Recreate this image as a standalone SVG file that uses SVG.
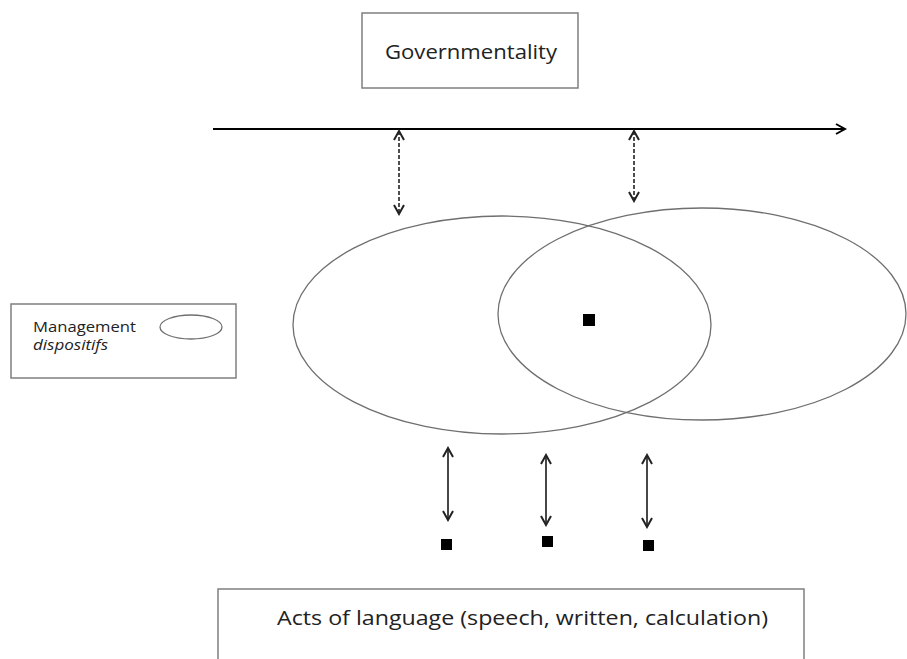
<svg xmlns="http://www.w3.org/2000/svg" width="907" height="659" viewBox="0 0 907 659">
<defs>
<style>
.box{fill:#fff;stroke:#7f7f7f;stroke-width:1.5}
.ell{fill:none;stroke:#6f6f6f;stroke-width:1.3}
.t{font-family:"Open Sans","Liberation Sans",sans-serif;fill:#222}
.ln{stroke:#000;stroke-width:2;fill:none}
.dash{stroke:#222;stroke-width:1.6;stroke-dasharray:4 2;fill:none}
.dbl{stroke:#333;stroke-width:1.8;fill:none}
.sq{fill:#000}
</style>
<marker id="ah" viewBox="0 0 12 12" refX="10" refY="6" markerWidth="12" markerHeight="12" markerUnits="userSpaceOnUse" orient="auto-start-reverse">
<path d="M1,1 L10,6 L1,11" fill="none" stroke="#000" stroke-width="2"/>
</marker>
<marker id="ah2" viewBox="0 0 12 12" refX="10" refY="6" markerWidth="12" markerHeight="12" markerUnits="userSpaceOnUse" orient="auto-start-reverse">
<path d="M1,1 L10,6 L1,11" fill="none" stroke="#222" stroke-width="2"/>
</marker>
</defs>
<rect width="907" height="659" fill="#fff"/>
<g id="governmentality">
<rect class="box" x="362" y="13" width="216" height="75"/>
<text class="t" x="385" y="59" font-size="20" textLength="172" lengthAdjust="spacingAndGlyphs">Governmentality</text>
</g>
<g id="legend">
<rect class="box" x="11" y="304" width="225" height="74"/>
<text class="t" x="33" y="332" font-size="14" textLength="103" lengthAdjust="spacingAndGlyphs">Management</text>
<text class="t" x="33" y="350" font-size="14" font-style="italic" textLength="75" lengthAdjust="spacingAndGlyphs">dispositifs</text>
<ellipse class="ell" cx="191" cy="327" rx="31" ry="12"/>
</g>
<g id="ellipse-left">
<ellipse class="ell" cx="502" cy="325" rx="209" ry="109"/>
</g>
<g id="ellipse-right">
<ellipse class="ell" cx="702" cy="314" rx="204" ry="106"/>
</g>
<g id="points">
<rect class="sq" x="583" y="314" width="12" height="12"/>
<rect class="sq" x="441" y="539" width="11" height="11"/>
<rect class="sq" x="542" y="536" width="11" height="11"/>
<rect class="sq" x="643" y="540" width="11" height="11"/>
</g>
<g id="acts">
<rect class="box" x="218" y="589" width="586" height="80"/>
<text class="t" x="277" y="625" font-size="20" textLength="491" lengthAdjust="spacingAndGlyphs">Acts of language (speech, written, calculation)</text>
</g>
<g id="connectors">
<line class="ln" x1="213" y1="129" x2="845" y2="129" marker-end="url(#ah)"/>
<line class="dash" x1="399" y1="131" x2="399" y2="214" marker-start="url(#ah2)" marker-end="url(#ah2)"/>
<line class="dash" x1="634" y1="131" x2="634" y2="201" marker-start="url(#ah2)" marker-end="url(#ah2)"/>
<line class="dbl" x1="448" y1="448" x2="448" y2="520" marker-start="url(#ah2)" marker-end="url(#ah2)"/>
<line class="dbl" x1="546" y1="455" x2="546" y2="525" marker-start="url(#ah2)" marker-end="url(#ah2)"/>
<line class="dbl" x1="647" y1="455" x2="647" y2="527" marker-start="url(#ah2)" marker-end="url(#ah2)"/>
</g>
</svg>
